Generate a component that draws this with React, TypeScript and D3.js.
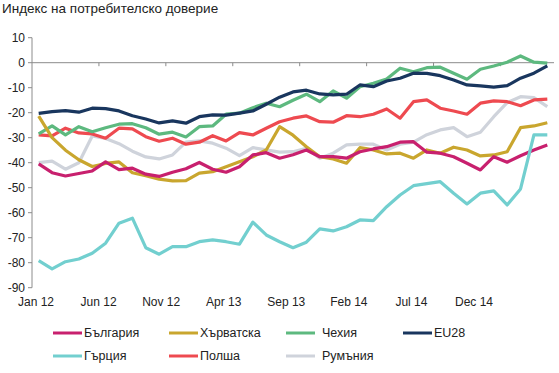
import { useEffect, useRef } from 'react'
import * as d3 from 'd3'

const months = [
  'Jan 12', 'Feb 12', 'Mar 12', 'Apr 12', 'May 12', 'Jun 12', 'Jul 12', 'Aug 12', 'Sep 12', 'Oct 12', 'Nov 12', 'Dec 12',
  'Jan 13', 'Feb 13', 'Mar 13', 'Apr 13', 'May 13', 'Jun 13', 'Jul 13', 'Aug 13', 'Sep 13', 'Oct 13', 'Nov 13', 'Dec 13',
  'Jan 14', 'Feb 14', 'Mar 14', 'Apr 14', 'May 14', 'Jun 14', 'Jul 14', 'Aug 14', 'Sep 14', 'Oct 14', 'Nov 14', 'Dec 14',
  'Jan 15', 'Feb 15', 'Mar 15',
]
const tickLabels = ['Jan 12', 'Jun 12', 'Nov 12', 'Apr 13', 'Sep 13', 'Feb 14', 'Jul 14', 'Dec 14']
const yTicks = [10, 0, -10, -20, -30, -40, -50, -60, -70, -80, -90]

const bulgaria = [-40.5, -44, -45.3, -44.3, -43.3, -39.7, -42.8, -42.2, -44.6, -45.5, -43.8, -42.4, -39.9, -42.6, -43.8, -41.6, -36.9, -36, -38.2, -36.8, -34.9, -37.6, -37.6, -38.2, -35.6, -34.5, -33.6, -31.8, -31.6, -35.8, -36.2, -37.6, -40.2, -42.9, -37.6, -39.8, -37.2, -34.9, -32.9]
const croatia = [-21.4, -30, -35, -38.8, -41.5, -40.3, -39.7, -44, -45.2, -46.6, -47.3, -47.2, -44.2, -43.6, -41.6, -39.6, -37.6, -34.9, -25.6, -29, -33.6, -37.6, -38.5, -40.2, -34, -34.9, -36.5, -36.2, -38.2, -34.9, -36.2, -33.8, -34.9, -37.3, -36.9, -35.6, -26, -25.3, -24]
const czechia = [-28.5, -25.3, -28.9, -25.6, -27.6, -26, -24.6, -24.4, -26, -28.6, -27.8, -29.7, -25.6, -25.3, -20.6, -20.2, -18, -16.2, -17.6, -15, -12.6, -15.6, -11.3, -14.2, -9.6, -8.2, -6.5, -2.2, -3.6, -2, -1.8, -4.2, -6.6, -2.6, -1.3, 0.2, 2.7, 0.2, -0.2]
const eu28 = [-20.3, -19.6, -19.2, -19.8, -18.2, -18.4, -19.3, -21.2, -22.5, -24.1, -23.3, -24.2, -21.6, -20.9, -21, -20.2, -19.3, -16.6, -13.8, -11.7, -11, -12.5, -12.9, -12.6, -8.9, -9.6, -7.3, -6.2, -4.2, -4.3, -5.2, -6.9, -8.9, -9.3, -9.8, -9.2, -6.2, -4.2, -1.3]
const greece = [-79.2, -82.5, -79.6, -78.5, -76.2, -72.2, -64.2, -62.2, -74, -76.6, -73.6, -73.6, -71.6, -70.9, -71.6, -72.6, -63.8, -68.9, -71.6, -74, -71.8, -66.5, -67.3, -65.6, -62.9, -63.2, -57.6, -52.9, -49.2, -48.4, -47.6, -52.2, -56.5, -52.2, -51.3, -56.9, -50.5, -28.9, -28.9]
const poland = [-28.9, -29.3, -26.2, -28.1, -28.5, -30.2, -26.2, -26.5, -29.6, -31.4, -30.2, -32.6, -31.8, -29.2, -31.3, -28, -28.9, -26.2, -23.6, -22.2, -21.3, -23.6, -23.8, -21.2, -21.6, -20.6, -18.5, -22.2, -15.6, -14.9, -18.2, -19.3, -20.6, -16.2, -15.3, -15.6, -17.2, -14.9, -14.6]
const romania = [-40, -39.4, -42.6, -40, -29.3, -30.3, -32.4, -35.4, -37.7, -38.5, -36.9, -31.8, -31.3, -32.2, -34.2, -37.2, -34, -34.9, -35.8, -35.6, -34.2, -38.2, -36.2, -32.9, -32.6, -32.6, -34.9, -32.6, -31.8, -28.8, -26.9, -26, -29.6, -27.8, -21.6, -16, -13.6, -14, -17.6]

interface Series {
  name: string
  values: number[]
  color: string
}

// legend order (row-major, 4 columns)
const series: Series[] = [
  { name: 'България', values: bulgaria, color: '#C8206E' },
  { name: 'Хърватска', values: croatia, color: '#C9A62E' },
  { name: 'Чехия', values: czechia, color: '#5DB97F' },
  { name: 'EU28', values: eu28, color: '#19365E' },
  { name: 'Гърция', values: greece, color: '#72CFCF' },
  { name: 'Полша', values: poland, color: '#EE4A50' },
  { name: 'Румъния', values: romania, color: '#CFD3DB' },
]
const drawOrder = ['Румъния', 'Полша', 'Чехия', 'Хърватска', 'България', 'EU28', 'Гърция']

const W = 559
const H = 373
const FONT = '"Liberation Sans", Arial, sans-serif'

export default function App() {
  const svgRef = useRef<SVGSVGElement>(null)

  useEffect(() => {
    document.body.style.margin = '0'
    if (!svgRef.current) return
    const svg = d3.select(svgRef.current)
    svg.selectAll('*').remove()

    const left = 32
    const right = 554
    const x = d3.scaleBand<string>().domain(months).range([left, right]).paddingInner(0).paddingOuter(0)
    const cx = (i: number) => x(months[i])! + x.bandwidth() / 2
    const y = d3.scaleLinear().domain([-90, 10]).range([287.7, 37.7])
    const labelX = d3.scalePoint<string>().domain(tickLabels).range([36, 474])

    svg.append('text')
      .attr('x', 2).attr('y', 12.5)
      .attr('font-family', FONT).attr('font-size', 13.5)
      .attr('fill', '#222')
      .text('Индекс на потребителско доверие')

    // y axis
    svg.append('line')
      .attr('x1', left).attr('x2', left)
      .attr('y1', y(10)).attr('y2', y(-90))
      .attr('stroke', '#8c8c8c').attr('stroke-width', 1)
    svg.selectAll('.ytick')
      .data(yTicks)
      .enter()
      .append('line')
      .attr('x1', left - 4).attr('x2', left)
      .attr('y1', d => y(d)).attr('y2', d => y(d))
      .attr('stroke', '#8c8c8c')
    svg.selectAll('.ylabel')
      .data(yTicks)
      .enter()
      .append('text')
      .attr('x', 25).attr('y', d => y(d))
      .attr('dy', '0.35em')
      .attr('text-anchor', 'end')
      .attr('font-family', FONT).attr('font-size', 12)
      .attr('fill', '#222')
      .text(d => d)

    // x axis at zero
    svg.append('line')
      .attr('x1', left).attr('x2', right)
      .attr('y1', y(0)).attr('y2', y(0))
      .attr('stroke', '#8c8c8c').attr('stroke-width', 1)
    const tickIdx = d3.range(5, months.length, 5)
    svg.selectAll('.xtick')
      .data(tickIdx)
      .enter()
      .append('line')
      .attr('x1', d => x(months[d])!).attr('x2', d => x(months[d])!)
      .attr('y1', y(0)).attr('y2', y(0) + 3.5)
      .attr('stroke', '#8c8c8c')
    svg.selectAll('.xlabel')
      .data(tickLabels)
      .enter()
      .append('text')
      .attr('x', d => labelX(d)!).attr('y', 306)
      .attr('text-anchor', 'middle')
      .attr('font-family', FONT).attr('font-size', 12)
      .attr('fill', '#222')
      .text(d => d)

    const line = d3.line<number>()
      .x((_, i) => cx(i))
      .y(d => y(d))

    drawOrder.forEach(name => {
      const s = series.find(t => t.name === name)!
      svg.append('path')
        .datum(s.values)
        .attr('fill', 'none')
        .attr('stroke', s.color)
        .attr('stroke-width', 3.2)
        .attr('stroke-linejoin', 'round')
        .attr('d', line)
    })

    // legend
    const colX = [53, 169, 286, 403]
    const rowY = [333, 356]
    const lg = svg.selectAll('.legend')
      .data(series)
      .enter()
      .append('g')
      .attr('transform', (_, i) => `translate(${colX[i % 4]},${rowY[Math.floor(i / 4)]})`)
    lg.append('line')
      .attr('x1', 0).attr('x2', 29)
      .attr('y1', 0).attr('y2', 0)
      .attr('stroke', d => d.color)
      .attr('stroke-width', 3)
    lg.append('text')
      .attr('x', (_, i) => (i % 4 === 2 ? 36 : 31))
      .attr('y', 0)
      .attr('dy', '0.35em')
      .attr('font-family', FONT).attr('font-size', 12.5)
      .attr('fill', '#222')
      .text(d => d.name)
  }, [])

  return <svg ref={svgRef} width={W} height={H} style={{ display: 'block', background: '#fff' }} />
}
